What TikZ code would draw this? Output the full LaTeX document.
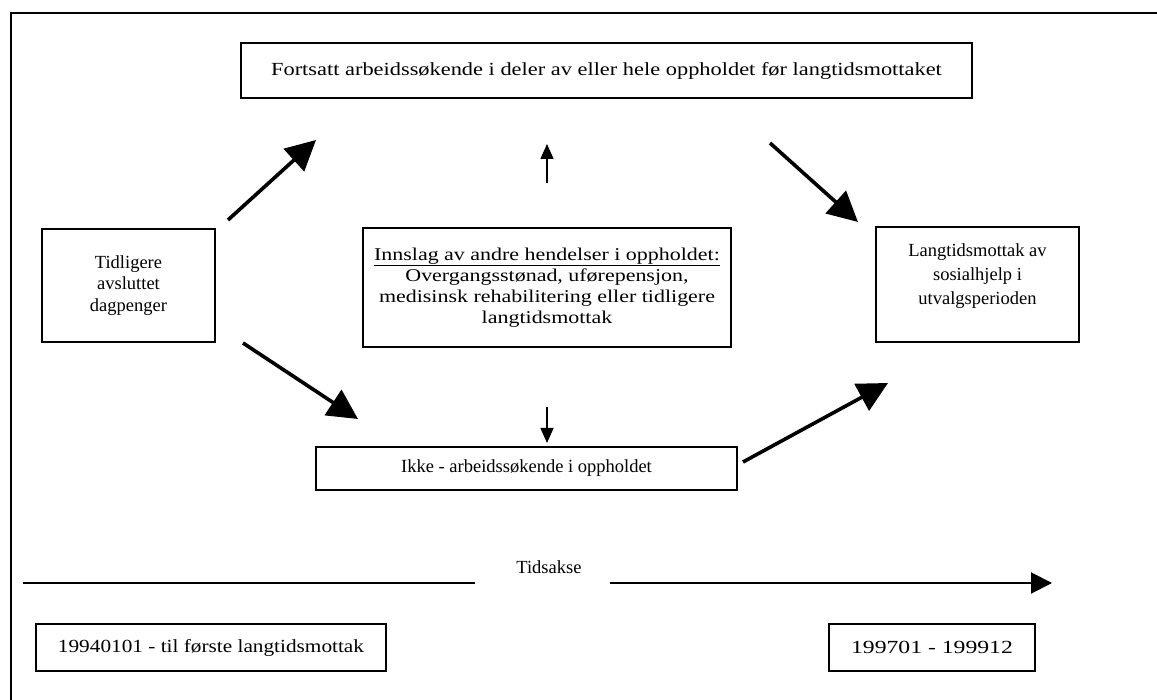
\documentclass[tikz,border=0pt]{standalone}
\usepackage{fontspec}
\setmainfont{Liberation Serif}
\newfontfamily\fsTop[FakeStretch=1.21]{Liberation Serif}
\newfontfamily\fsMid[FakeStretch=1.22]{Liberation Serif}
\newfontfamily\fsBL[FakeStretch=1.15]{Liberation Serif}
\newfontfamily\fsBR[FakeStretch=1.28]{Liberation Serif}
\usetikzlibrary{arrows.meta}
\begin{document}
\begin{tikzpicture}[x=1pt,y=-1pt,
  box/.style={draw,line width=1.6pt,rectangle,inner sep=0pt,align=center,font=\fontsize{18.5}{21.5}\selectfont},
  bigarrow/.style={line width=3.6pt,-{Triangle[length=30pt,width=30pt]}},
  thinarrow/.style={line width=1.4pt,-{Triangle[length=15pt,width=13pt]}},
  axisarrow/.style={line width=2pt,-{Triangle[length=21pt,width=21pt]}}]
\useasboundingbox (0,0) rectangle (1157,700);
\draw[line width=2pt] (11,700) -- (11,13) -- (1157,13);
\node[box,minimum width=731pt,minimum height=55pt] (top) at (606.5,70.5) {\fsTop Fortsatt arbeidssøkende i deler av eller hele oppholdet før langtidsmottaket};
\node[box,minimum width=173pt,minimum height=113pt] (left) at (128.5,285.5) {Tidligere\\avsluttet\\dagpenger};
\node[box,minimum width=368pt,minimum height=119pt] (mid) at (547,287.5) {};
\node[align=center,inner sep=0pt,font=\fontsize{18}{21}\selectfont\fsMid] (midtext) at (mid.center) {\underline{Innslag av andre hendelser i oppholdet:}\\Overgangsstønad, uførepensjon,\\medisinsk rehabilitering eller tidligere\\langtidsmottak};
\node[box,minimum width=203pt,minimum height=115pt] (right) at (977.5,284.5) {};
\node[align=center,inner sep=0pt,font=\fontsize{18.5}{24}\selectfont] (righttext) at ([yshift=8pt]right.center) {Langtidsmottak av\\sosialhjelp i\\utvalgsperioden};
\node[box,minimum width=421pt,minimum height=43pt] (ikke) at (526.5,468.5) {Ikke - arbeidssøkende i oppholdet};
\node[box,minimum width=350pt,minimum height=47pt] (start) at (211,647.5) {\fsBL 19940101 - til første langtidsmottak};
\node[box,minimum width=206pt,minimum height=47pt] (end) at (932,647.5) {\fsBR 199701 - 199912};
\node[font=\fontsize{18.5}{21.5}\selectfont] (tids) at (549,567) {Tidsakse};
\coordinate (a1s) at (228,220); \coordinate (a1e) at (316,140);
\coordinate (a2s) at (770,143); \coordinate (a2e) at (858,222);
\coordinate (a3s) at (243,343); \coordinate (a3e) at (358,419);
\coordinate (a4s) at (743,462); \coordinate (a4e) at (888,383);
\coordinate (u1) at (547,183); \coordinate (u2) at (547,144);
\coordinate (d1) at (547,407); \coordinate (d2) at (547,443);
\coordinate (t0) at (23,583); \coordinate (t1) at (475,583);
\coordinate (t2) at (610,583); \coordinate (t3) at (1052,583);
\draw[bigarrow] (a1s) -- (a1e);
\draw[bigarrow] (a2s) -- (a2e);
\draw[bigarrow] (a3s) -- (a3e);
\draw[bigarrow] (a4s) -- (a4e);
\draw[thinarrow] (u1) -- (u2);
\draw[thinarrow] (d1) -- (d2);
\draw[line width=2pt] (t0) -- (t1);
\draw[axisarrow] (t2) -- (t3);
\end{tikzpicture}
\end{document}
